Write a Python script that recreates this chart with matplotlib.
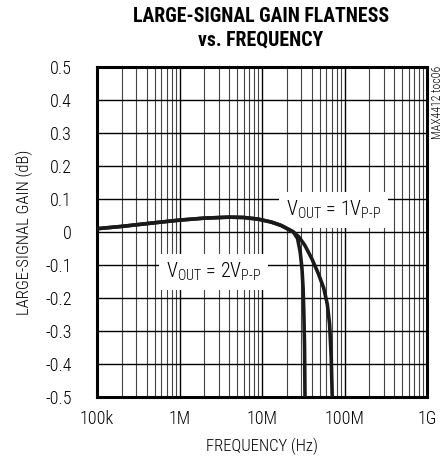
import numpy as np
import matplotlib.pyplot as plt
from matplotlib.ticker import LogLocator, NullFormatter

plt.rcParams['font.family'] = ['Roboto Condensed', 'Archivo Narrow', 'DejaVu Sans']
plt.rcParams['mathtext.fontset'] = 'custom'
plt.rcParams['mathtext.rm'] = 'Roboto Condensed:light'

# curve data
f_1v = [1e5, 2e5, 5e5, 1e6, 2e6, 4e6, 6e6, 9e6, 1.3e7, 1.7e7, 2.1e7, 2.4e7,
        2.8e7, 3.3e7, 4e7, 4.8e7, 5.6e7, 6.2e7, 6.6e7, 6.9e7, 7.1e7]
g_1v = [0.01, 0.017, 0.028, 0.036, 0.042, 0.045, 0.044, 0.039, 0.03, 0.02, 0.008, 0.0,
        -0.015, -0.04, -0.08, -0.125, -0.17, -0.22, -0.28, -0.38, -0.5]
f_2v = [1e5, 2e5, 5e5, 1e6, 2e6, 4e6, 6e6, 9e6, 1.3e7, 1.7e7, 2.1e7, 2.4e7,
        2.7e7, 2.9e7, 3.05e7, 3.15e7, 3.22e7, 3.28e7, 3.32e7]
g_2v = [0.01, 0.017, 0.028, 0.036, 0.042, 0.045, 0.044, 0.039, 0.03, 0.02, 0.008, 0.0,
        -0.02, -0.06, -0.11, -0.17, -0.25, -0.35, -0.5]

xticks = [1e5, 1e6, 1e7, 1e8, 1e9]
xlabels = ['100k', '1M', '10M', '100M', '1G']
yticks = np.round(np.arange(-0.5, 0.51, 0.1), 1)
ylabels = ['-0.5', '-0.4', '-0.3', '-0.2', '-0.1', '0', '0.1', '0.2', '0.3', '0.4', '0.5']

fig = plt.figure(figsize=(4.48, 4.61), dpi=100)
ax = fig.add_axes([97 / 448, 1 - 397 / 461, 330 / 448, 330 / 461])

ax.set_xscale('log')
ax.set_xlim(1e5, 1e9)
ax.set_ylim(-0.5, 0.5)
ax.set_xticks(xticks)
ax.set_xticklabels(xlabels, fontweight='light')
ax.xaxis.set_minor_locator(LogLocator(base=10, subs=np.arange(2, 10)))
ax.xaxis.set_minor_formatter(NullFormatter())
ax.set_yticks(yticks)
ax.set_yticklabels(ylabels, fontweight='light')
ax.tick_params(which='both', length=0, labelsize=13)
ax.tick_params(axis='y', pad=18)
ax.tick_params(axis='x', pad=9)

ax.grid(True, which='major', color='black', linewidth=1.0)
ax.grid(True, which='minor', axis='x', color='#444444', linewidth=0.8)
for s in ax.spines.values():
    s.set_linewidth(2.2)

ax.plot(f_1v, g_1v, color='#1a1a1a', linewidth=2.6, zorder=3)
ax.plot(f_2v, g_2v, color='#1a1a1a', linewidth=2.6, zorder=3)

# label boxes sit above the grid but under the curves
box = dict(facecolor='white', edgecolor='none', pad=5)
ax.text(7.4e7, 0.068, r'V$_{\mathrm{OUT}}$ = 1V$_{\mathrm{P\text{-}P}}$', fontsize=14.5,
        fontweight='light', ha='center', va='center', bbox=box, zorder=2.5)
ax.text(2.6e6, -0.121, r'V$_{\mathrm{OUT}}$ = 2V$_{\mathrm{P\text{-}P}}$', fontsize=14.5,
        fontweight='light', ha='center', va='center', bbox=box, zorder=2.5)

fig.text(262 / 448, 1 - 446 / 461, 'FREQUENCY (Hz)', ha='center', va='center',
         fontsize=12, fontweight='light')
fig.text(24 / 448, 1 - 232 / 461, 'LARGE-SIGNAL GAIN (dB)', rotation=90, ha='center',
         va='center', fontsize=12, fontweight='light')

fig.text(261 / 448, 1 - 16.5 / 461, 'LARGE-SIGNAL GAIN FLATNESS', ha='center', va='center',
         fontsize=14.2, fontweight='black')
fig.text(261 / 448, 1 - 40 / 461, 'vs. FREQUENCY', ha='center', va='center',
         fontsize=14.2, fontweight='black')
fig.text(437 / 448, 1 - 66 / 461, 'MAX4412 toc06', rotation=90, ha='center', va='top',
         fontsize=8.5, fontweight='light')

fig.savefig('out.png', dpi=100)
